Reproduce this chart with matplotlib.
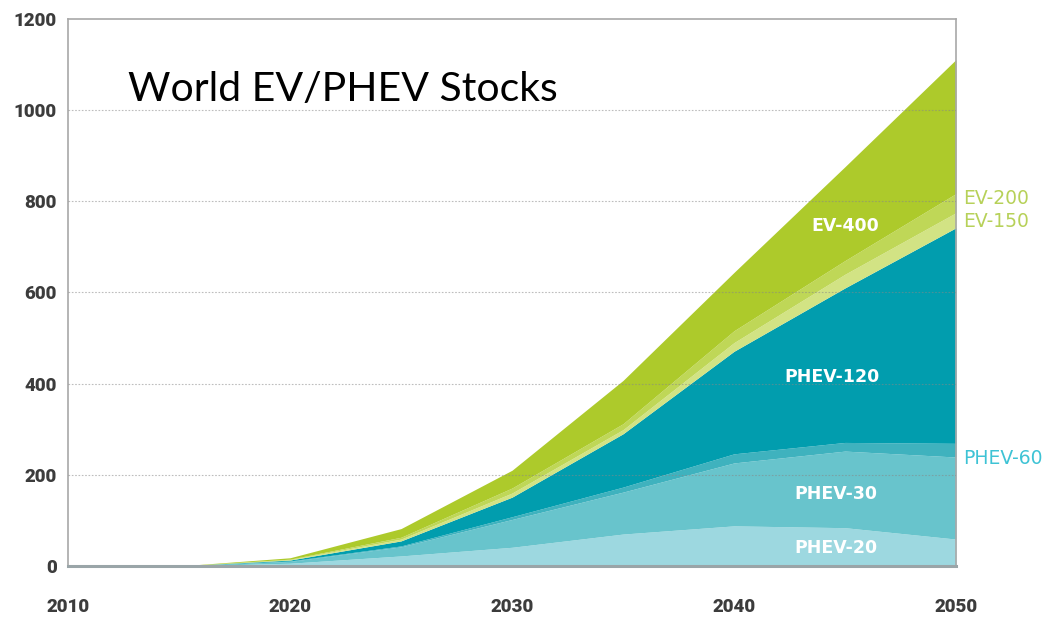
import matplotlib
matplotlib.use("Agg")
import matplotlib.pyplot as plt

years = [2015, 2020, 2025, 2030, 2035, 2040, 2045, 2050]
phev20 = [0, 6, 22, 41, 70, 88, 84, 59]
phev30 = [0, 4, 20, 61, 92, 138, 168, 180]
phev60 = [0, 1, 2, 6, 11, 20, 19, 30]
phev120 = [0, 2, 11, 43, 117, 225, 339, 473]
ev150 = [0, 1, 4, 9, 9, 19, 30, 33]
ev200 = [0, 1, 4, 11, 13, 26, 30, 42]
ev400 = [0, 3, 19, 39, 95, 128, 206, 294]

series_names = ["PHEV-20", "PHEV-30", "PHEV-60", "PHEV-120", "EV-150", "EV-200", "EV-400"]
colors = ["#9dd8e0", "#68c4cc", "#3fb2be", "#019dae", "#d2e384", "#bfd757", "#adca2b"]

x_ticks = [2010, 2020, 2030, 2040, 2050]
y_ticks = [0, 200, 400, 600, 800, 1000, 1200]

fig = plt.figure(figsize=(10.53, 6.17), dpi=100)
ax = fig.add_axes([0.0646, 0.0827, 0.8433, 0.8866])

ax.stackplot(years, phev20, phev30, phev60, phev120, ev150, ev200, ev400,
             colors=colors, linewidth=0, edgecolor="face", zorder=2)

ax.set_xlim(2010, 2050)
ax.set_ylim(0, 1200)
ax.set_xticks(x_ticks)
ax.set_yticks(y_ticks)
ax.tick_params(length=0)
ax.tick_params(axis="y", pad=8)
ax.tick_params(axis="x", pad=23)
for lab in ax.get_xticklabels() + ax.get_yticklabels():
    lab.set_fontfamily("Roboto")
    lab.set_fontweight("heavy")
    lab.set_fontsize(13.5)
    lab.set_color("#3c3c3c")

for yv in y_ticks[1:-1]:
    ax.axhline(yv, color="#888888", linestyle=(0, (1.5, 1.5)), linewidth=0.8, alpha=0.55, zorder=3)

for side in ["left", "top", "right"]:
    ax.spines[side].set_color("#a8a8a8")
    ax.spines[side].set_linewidth(1.2)
ax.spines["bottom"].set_color("#9aa5a8")
ax.spines["bottom"].set_linewidth(2.2)

ax.text(2012.7, 1020, "World EV/PHEV Stocks", fontsize=29.5, family="Lato",
        color="black", ha="left", va="baseline", zorder=5)

inside = dict(color="white", fontweight="bold", family="DejaVu Sans", fontsize=12.5,
              ha="center", va="center", zorder=5)
ax.text(2045.0, 745, "EV-400", **inside)
ax.text(2044.4, 415, "PHEV-120", **inside)
ax.text(2044.6, 158, "PHEV-30", **inside)
ax.text(2044.6, 40, "PHEV-20", **inside)

side_kw = dict(family="DejaVu Sans", fontsize=13.5, ha="left", va="center", clip_on=False)
ax.text(2050.3, 807, "EV-200", color="#b7d159", **side_kw)
ax.text(2050.3, 755, "EV-150", color="#b7d159", **side_kw)
ax.text(2050.3, 235, "PHEV-60", color="#3ec3d5", **side_kw)

fig.savefig("out.png", dpi=100)
